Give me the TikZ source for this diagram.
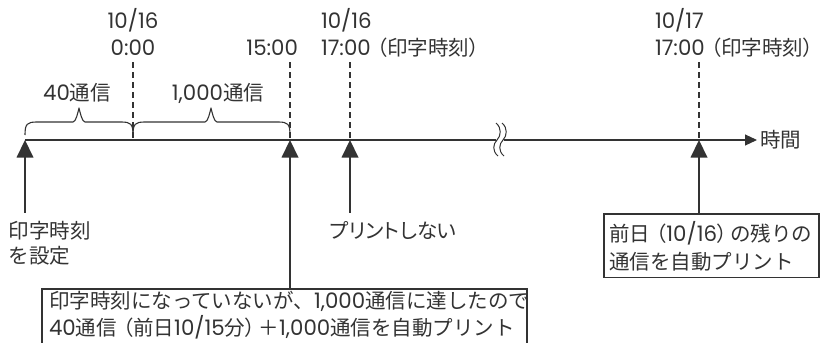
\documentclass[tikz,border=0pt]{standalone}
\usepackage{fontspec}
\setmainfont{Noto Sans CJK JP}
\newfontfamily\dgfont{Poppins}[Scale=1.04]
\newfontfamily\pfont{Noto Sans CJK JP}[RawFeature=+palt]
\newcommand\dg[1]{{\dgfont #1}}
\newcommand\lp{\hspace{0.3em}{\pfont （}}
\newcommand\rp{{\pfont ）}\hspace{0.15em}}
\newcommand\rpe{{\pfont ）}}
\usetikzlibrary{arrows.meta}
\definecolor{ink}{HTML}{333333}
\begin{document}
\begin{tikzpicture}[x=1pt,y=-1pt,
  every node/.style={inner sep=0pt, outer sep=0pt, text=ink, font=\fontsize{20.5}{27.5}\selectfont},
  axisline/.style={draw=ink, line width=1.1pt},
  guide/.style={draw=ink, line width=1.1pt, dash pattern=on 6pt off 4pt},
  stem/.style={draw=ink, line width=2.6pt},
  tri/.style={fill=ink},
  bracepath/.style={draw=ink, line width=1.1pt, line join=round},
  notebox/.style={draw=ink, line width=1.1pt, align=left, anchor=north west, inner xsep=7pt},
  lbl/.style={align=left, font=\fontsize{20.5}{25}\selectfont}
]
\clip (0,0) rectangle (820,343);
\useasboundingbox (0,0) rectangle (820,343);
% tick coordinates on the axis
\coordinate (t0) at (25,140);
\coordinate (t1) at (133,140);
\coordinate (t2) at (290,140);
\coordinate (t3) at (350,140);
\coordinate (t4) at (699,140);
\coordinate (axend) at (757,140);
% bases of the markers
\coordinate (b0) at (25,157);
\coordinate (b2) at (290,157);
\coordinate (b3) at (350,157);
\coordinate (b4) at (699,157);
% free ends of stems
\coordinate (e0) at (25,213);
\coordinate (e3) at (350,213);
% top of dashed guides
\coordinate (g1) at (133,62);
\coordinate (g2) at (290,62);
\coordinate (g3) at (350,62);
\coordinate (g4) at (699,62);
% axis
\draw[axisline, -{Triangle[length=12pt,width=11pt]}] (t0) -- (axend);
\node[anchor=west] (jikan) at (760,140) {時間};
% axis break
\fill[white] (496,137) rectangle (504,143.5);
\foreach \bx in {497,503}{
  \draw[ink, line width=1pt] (\bx-1,123) .. controls (\bx+5,128) and (\bx+4,136) .. (\bx,140)
     .. controls (\bx-4,144) and (\bx-5,151) .. (\bx+1,156);
}
% dashed guides
\draw[guide] (g1) -- (t1);
\draw[guide] (g2) -- (t2);
\draw[guide] (g3) -- (t3);
\draw[guide] (g4) -- (t4);
% braces
\draw[bracepath] (25,135) .. controls (25,124) and (27,122) .. (37,122) -- (73,122)
   .. controls (76,122) and (78,112) .. (79,108) .. controls (80,112) and (82,122) .. (85,122)
   -- (121,122) .. controls (131,122) and (133,124) .. (133,135);
\draw[bracepath] (133,135) .. controls (133,124) and (135,122) .. (145,122) -- (205,122)
   .. controls (208,122) and (210,112) .. (211,108) .. controls (212,112) and (214,122) .. (217,122)
   -- (278,122) .. controls (288,122) and (290,124) .. (290,135);
\node (c40) at (77,93) {\dg{40}通信};
\node (c1000) at (218,93) {\dg{1,000}通信};
% top labels
\node (d1) at (133,20) {\dg{10/16}};
\node (h1) at (133,48) {\dg{0:00}};
\node[anchor=east] (h2) at (298,48) {\dg{15:00}};
\node[anchor=west] (d3) at (321,20) {\dg{10/16}};
\node[anchor=west] (h3) at (321,48) {\dg{17:00}\lp 印字時刻\rpe};
\node[anchor=west] (d4) at (655,20) {\dg{10/17}};
\node[anchor=west] (h4) at (655,48) {\dg{17:00}\lp 印字時刻\rpe};
% markers
\foreach \t in {t0,t2,t3,t4}{
  \fill[tri] (\t) -- ++(-8.5,17.5) -- ++(17,0) -- cycle;
}
% bottom labels and boxes
\node[lbl, anchor=north west] (set) at (9,221) {印字時刻\\を設定};
\node[anchor=north west] (noprint) at (330,221) {\pfont プリントしない};
\node[notebox, inner ysep=2pt, text width=471pt] (box1) at (42,289) {印字時刻になっていないが、\dg{1,000}通信に達したので\\\dg{40}通信\lp 前日\dg{10/15}分\rp ＋\dg{1,000}通信を自動プリント\rule[-16pt]{0pt}{16pt}};
\node[notebox, inner ysep=7pt, inner xsep=5pt, text width=205pt, font=\fontsize{20.5}{28}\selectfont] (box2) at (604,214) {前日\lp\dg{10/16}\rp の残りの\\通信を自動プリント};
% stems
\draw[stem] (b0) -- (e0);
\draw[stem] (b3) -- (e3);
\draw[stem] (b2) -- (b2 |- box1.north);
\draw[stem] (b4) -- (b4 |- box2.north);
\end{tikzpicture}
\end{document}
